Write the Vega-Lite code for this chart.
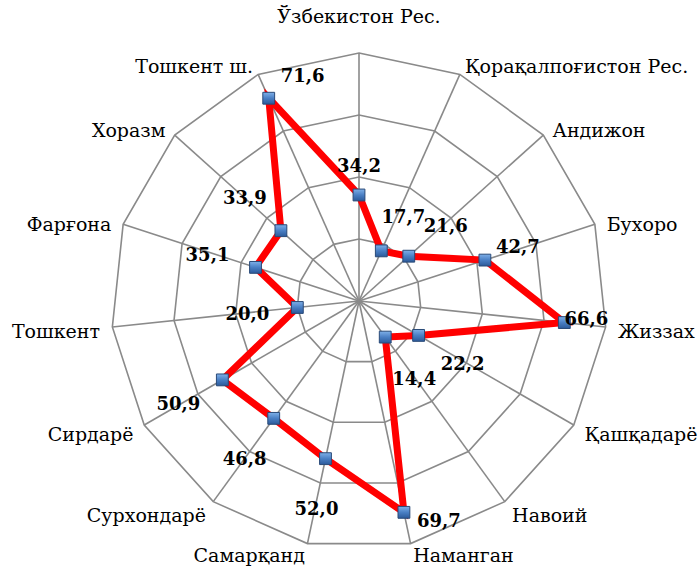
{
  "$schema": "https://vega.github.io/schema/vega-lite/v6.json",
  "width": 496,
  "height": 496,
  "autosize": {"type": "none"},
  "padding": {"left": 111, "top": 53, "right": 92, "bottom": 20},
  "background": "white",
  "config": {"view": {"stroke": null}, "text": {"font": "DejaVu Serif"}},
  "datasets": {
    "regions": [
      {"idx": 0, "region": "Ўзбекистон Рес.", "value": 34.2},
      {"idx": 1, "region": "Қорақалпоғистон Рес.", "value": 17.7},
      {"idx": 2, "region": "Андижон", "value": 21.6},
      {"idx": 3, "region": "Бухоро", "value": 42.7},
      {"idx": 4, "region": "Жиззах", "value": 66.6},
      {"idx": 5, "region": "Қашқадарё", "value": 22.2},
      {"idx": 6, "region": "Навоий", "value": 14.4},
      {"idx": 7, "region": "Наманган", "value": 69.7},
      {"idx": 8, "region": "Самарқанд", "value": 52.0},
      {"idx": 9, "region": "Сурхондарё", "value": 46.8},
      {"idx": 10, "region": "Сирдарё", "value": 50.9},
      {"idx": 11, "region": "Тошкент", "value": 20.0},
      {"idx": 12, "region": "Фарғона", "value": 35.1},
      {"idx": 13, "region": "Хоразм", "value": 33.9},
      {"idx": 14, "region": "Тошкент ш.", "value": 71.6}
    ],
    "grid": [
      {"ring": 20, "idx": [0,1,2,3,4,5,6,7,8,9,10,11,12,13,14]},
      {"ring": 40, "idx": [0,1,2,3,4,5,6,7,8,9,10,11,12,13,14]},
      {"ring": 60, "idx": [0,1,2,3,4,5,6,7,8,9,10,11,12,13,14]},
      {"ring": 80, "idx": [0,1,2,3,4,5,6,7,8,9,10,11,12,13,14]}
    ]
  },
  "layer": [
    {
      "data": {"name": "grid"},
      "transform": [
        {"flatten": ["idx"]},
        {"calculate": "datum.idx * 2 * PI / 15", "as": "a"},
        {"calculate": "datum.ring * sin(datum.a)", "as": "gx"},
        {"calculate": "datum.ring * cos(datum.a)", "as": "gy"}
      ],
      "mark": {"type": "line", "interpolate": "linear-closed", "stroke": "#8a8a8a", "strokeWidth": 1.6},
      "encoding": {
        "x": {"field": "gx", "type": "quantitative", "scale": {"domain": [-80, 80], "nice": false, "zero": false}, "axis": null},
        "y": {"field": "gy", "type": "quantitative", "scale": {"domain": [-80, 80], "nice": false, "zero": false}, "axis": null},
        "detail": {"field": "ring", "type": "nominal"},
        "order": {"field": "idx", "type": "quantitative"}
      }
    },
    {
      "data": {"name": "regions"},
      "transform": [
        {"calculate": "datum.idx * 2 * PI / 15", "as": "a"},
        {"calculate": "80 * sin(datum.a)", "as": "sx"},
        {"calculate": "80 * cos(datum.a)", "as": "sy"}
      ],
      "mark": {"type": "rule", "stroke": "#8a8a8a", "strokeWidth": 1.6},
      "encoding": {
        "x": {"field": "sx", "type": "quantitative", "scale": {"domain": [-80, 80], "nice": false, "zero": false}, "axis": null},
        "y": {"field": "sy", "type": "quantitative", "scale": {"domain": [-80, 80], "nice": false, "zero": false}, "axis": null},
        "x2": {"datum": 0},
        "y2": {"datum": 0}
      }
    },
    {
      "data": {"name": "regions"},
      "transform": [
        {"calculate": "datum.idx * 2 * PI / 15", "as": "a"},
        {"calculate": "datum.value * sin(datum.a)", "as": "px"},
        {"calculate": "datum.value * cos(datum.a)", "as": "py"}
      ],
      "mark": {"type": "line", "interpolate": "linear-closed", "stroke": "#ff0000", "strokeWidth": 7, "strokeJoin": "miter"},
      "encoding": {
        "x": {"field": "px", "type": "quantitative", "scale": {"domain": [-80, 80], "nice": false, "zero": false}, "axis": null},
        "y": {"field": "py", "type": "quantitative", "scale": {"domain": [-80, 80], "nice": false, "zero": false}, "axis": null},
        "order": {"field": "idx", "type": "quantitative"}
      }
    },
    {
      "data": {"name": "regions"},
      "transform": [
        {"calculate": "datum.idx * 2 * PI / 15", "as": "a"},
        {"calculate": "datum.value * sin(datum.a)", "as": "px"},
        {"calculate": "datum.value * cos(datum.a)", "as": "py"}
      ],
      "mark": {
        "type": "point",
        "shape": "square",
        "size": 140,
        "filled": true,
        "opacity": 1,
        "fill": {"gradient": "linear", "x1": 0, "y1": 0, "x2": 0, "y2": 1, "stops": [{"offset": 0, "color": "#7fb0e8"}, {"offset": 0.5, "color": "#4a7fc4"}, {"offset": 1, "color": "#2c5a9a"}]},
        "stroke": "#2a4a78",
        "strokeWidth": 1
      },
      "encoding": {
        "x": {"field": "px", "type": "quantitative", "scale": {"domain": [-80, 80], "nice": false, "zero": false}, "axis": null},
        "y": {"field": "py", "type": "quantitative", "scale": {"domain": [-80, 80], "nice": false, "zero": false}, "axis": null}
      }
    },
    {
      "data": {"name": "regions"},
      "transform": [
        {"calculate": "datum.idx * 2 * PI / 15", "as": "a"},
        {"calculate": "datum.value * sin(datum.a)", "as": "px"},
        {"calculate": "datum.value * cos(datum.a)", "as": "py"},
        {"calculate": "replace(format(datum.value, '.1f'), '.', ',')", "as": "lbl"}
      ],
      "mark": {
        "type": "text",
        "font": "DejaVu Serif",
        "fontWeight": "bold",
        "fontSize": 18,
        "color": "#000000",
        "align": "center",
        "baseline": "middle",
        "dx": {"expr": "[0,22,37,33,22,44,29,35,-9,-29,-44,-50,-48,-36,34][datum.idx]"},
        "dy": {"expr": "[-28,-33,-29,-12,-3,30,43,10,51,42,25,8,-11,-32,-21][datum.idx]"}
      },
      "encoding": {
        "x": {"field": "px", "type": "quantitative", "scale": {"domain": [-80, 80], "nice": false, "zero": false}, "axis": null},
        "y": {"field": "py", "type": "quantitative", "scale": {"domain": [-80, 80], "nice": false, "zero": false}, "axis": null},
        "text": {"field": "lbl", "type": "nominal"}
      }
    },
    {
      "data": {"name": "regions"},
      "transform": [
        {"filter": "datum.idx >= 1 && datum.idx <= 7"},
        {"calculate": "datum.idx * 2 * PI / 15", "as": "a"},
        {"calculate": "84 * sin(datum.a)", "as": "lx"},
        {"calculate": "84 * cos(datum.a)", "as": "ly"}
      ],
      "mark": {"type": "text", "font": "DejaVu Serif", "fontSize": 19, "color": "#000000", "align": "left", "baseline": "middle", "dy": {"expr": "datum.idx == 7 ? 0 : 4"}},
      "encoding": {
        "x": {"field": "lx", "type": "quantitative", "scale": {"domain": [-80, 80], "nice": false, "zero": false}, "axis": null},
        "y": {"field": "ly", "type": "quantitative", "scale": {"domain": [-80, 80], "nice": false, "zero": false}, "axis": null},
        "text": {"field": "region", "type": "nominal"}
      }
    },
    {
      "data": {"name": "regions"},
      "transform": [
        {"filter": "datum.idx >= 8"},
        {"calculate": "datum.idx * 2 * PI / 15", "as": "a"},
        {"calculate": "84 * sin(datum.a)", "as": "lx"},
        {"calculate": "84 * cos(datum.a)", "as": "ly"}
      ],
      "mark": {"type": "text", "font": "DejaVu Serif", "fontSize": 19, "color": "#000000", "align": "right", "baseline": "middle", "dy": {"expr": "datum.idx == 8 ? 0 : 4"}},
      "encoding": {
        "x": {"field": "lx", "type": "quantitative", "scale": {"domain": [-80, 80], "nice": false, "zero": false}, "axis": null},
        "y": {"field": "ly", "type": "quantitative", "scale": {"domain": [-80, 80], "nice": false, "zero": false}, "axis": null},
        "text": {"field": "region", "type": "nominal"}
      }
    },
    {
      "data": {"name": "regions"},
      "transform": [
        {"filter": "datum.idx == 0"},
        {"calculate": "datum.idx * 2 * PI / 15", "as": "a"},
        {"calculate": "84 * sin(datum.a)", "as": "lx"},
        {"calculate": "84 * cos(datum.a)", "as": "ly"}
      ],
      "mark": {"type": "text", "font": "DejaVu Serif", "fontSize": 19, "color": "#000000", "align": "center", "baseline": "middle", "dy": -24},
      "encoding": {
        "x": {"field": "lx", "type": "quantitative", "scale": {"domain": [-80, 80], "nice": false, "zero": false}, "axis": null},
        "y": {"field": "ly", "type": "quantitative", "scale": {"domain": [-80, 80], "nice": false, "zero": false}, "axis": null},
        "text": {"field": "region", "type": "nominal"}
      }
    }
  ]
}
